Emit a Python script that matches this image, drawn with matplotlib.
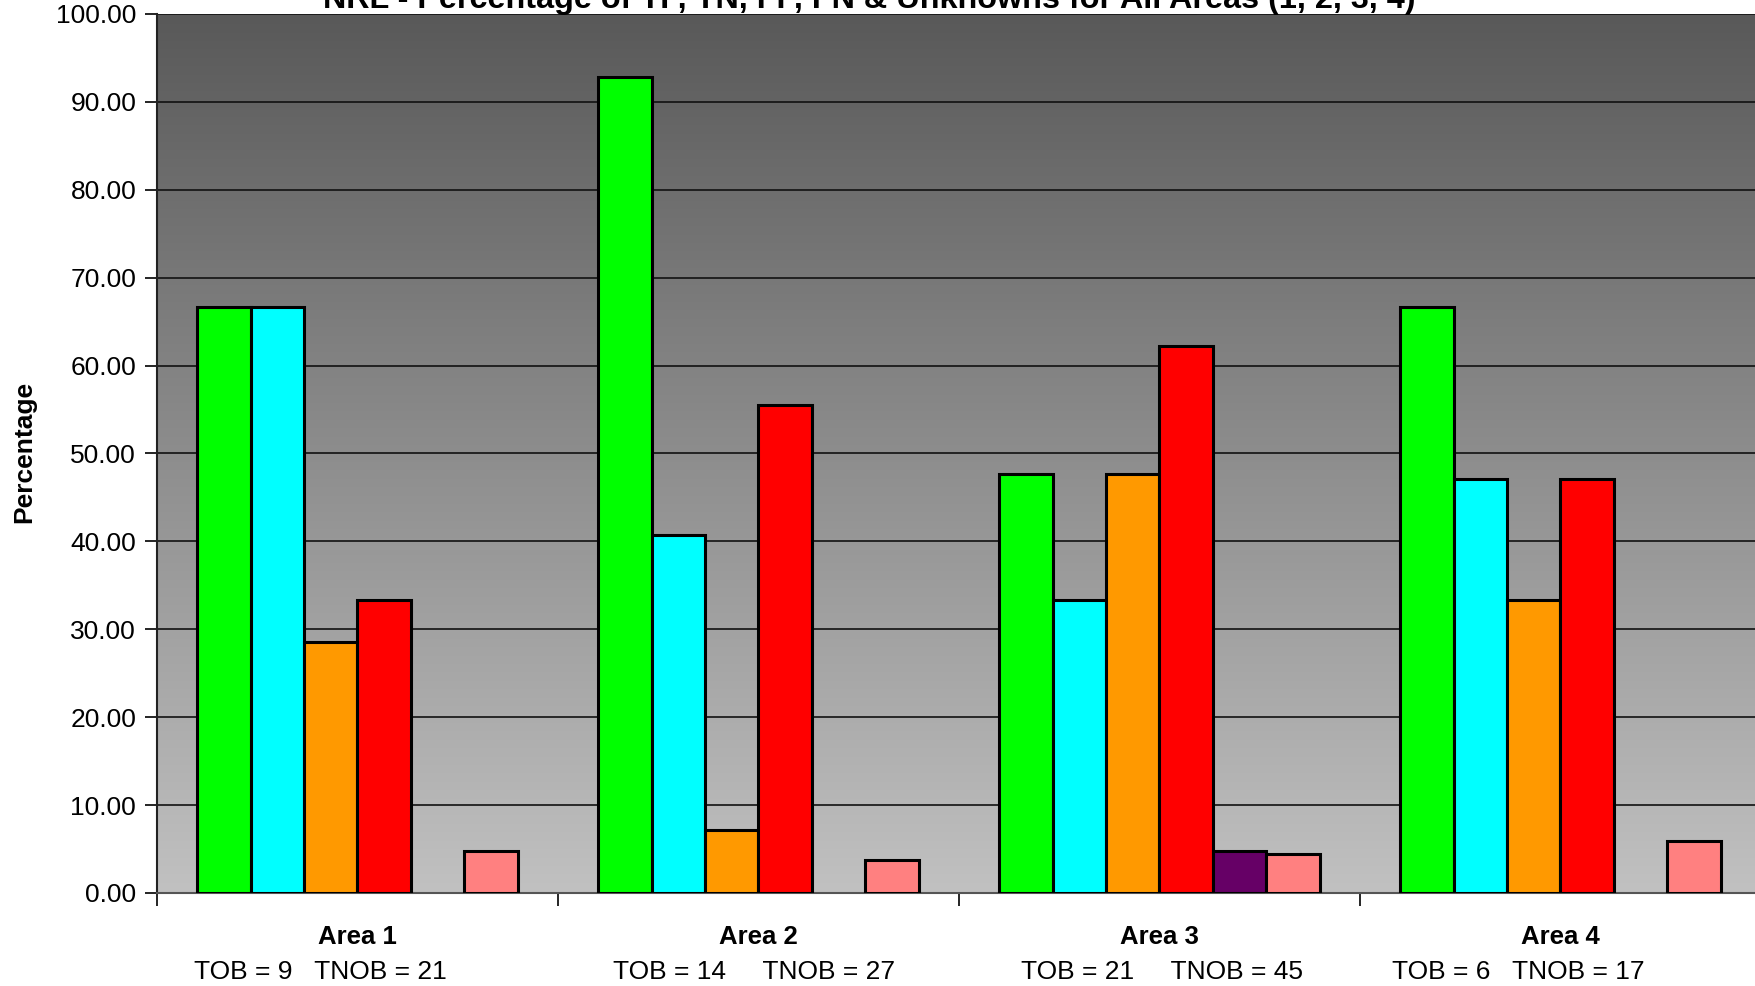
import numpy as np
import matplotlib
matplotlib.use("Agg")
import matplotlib.pyplot as plt
import matplotlib.transforms as mtransforms

plt.rcParams['font.family'] = ['Liberation Sans', 'DejaVu Sans']

areas = ["Area 1", "Area 2", "Area 3", "Area 4"]
counts = ["TOB = 9   TNOB = 21", "TOB = 14     TNOB = 27",
          "TOB = 21     TNOB = 45", "TOB = 6   TNOB = 17"]
series_names = ["TP", "TN", "FP", "FN", "Unknown TOB", "Unknown TNOB"]
tp = [66.67, 92.86, 47.62, 66.67]
tn = [66.67, 40.74, 33.33, 47.06]
fp = [28.57, 7.14, 47.62, 33.33]
fn = [33.33, 55.56, 62.22, 47.06]
unk_ob = [0.0, 0.0, 4.76, 0.0]
unk_nob = [4.76, 3.70, 4.44, 5.88]
colors = ["#00FF00", "#00FFFF", "#FF9900", "#FF0000", "#660066", "#FF8080"]
title = "NRL - Percentage of TP, TN, FP, FN & Unknowns for All Areas (1, 2, 3, 4)"
yticks = np.arange(0, 101, 10)

W, H = 1756, 986
fig = plt.figure(figsize=(W / 100, H / 100), dpi=100)
left, bottom_px, top_px, right = 157, 893, 14, 1761
ax = fig.add_axes([left / W, 1 - bottom_px / H, (right - left) / W, (bottom_px - top_px) / H])

ax.set_xlim(-0.5, 3.5)
ax.set_ylim(0, 100)

# gradient background
grad = np.linspace(0, 1, 256).reshape(-1, 1)
top_c = np.array([89, 89, 89]) / 255
bot_c = np.array([193, 193, 193]) / 255
img = top_c * (1 - grad[..., None]) + bot_c * grad[..., None]
img = img.reshape(256, 1, 3)
ax.imshow(img, extent=[-0.5, 3.5, 0, 100], aspect='auto', zorder=0, interpolation='bilinear')

# grid lines
for yv in yticks[1:]:
    ax.axhline(yv, color='#111111', lw=1.2, zorder=1)

data = [tp, tn, fp, fn, unk_ob, unk_nob]
n = len(data)
w = 0.8 / n
x = np.arange(len(areas))
for j, (vals, c, nm) in enumerate(zip(data, colors, series_names)):
    xs = x - 0.4 + w * (j + 0.5)
    v = np.array(vals)
    mask = v > 0
    ax.bar(xs[mask], v[mask], width=w, color=c, edgecolor='black', linewidth=2.2,
           zorder=3, label=nm)

ax.set_yticks(yticks)
ax.set_yticklabels([f"{v:.2f}" for v in yticks], fontsize=19)
ax.tick_params(axis='y', direction='out', length=9, width=1.2, color='black', pad=6)
ax.set_xticks(np.arange(-0.5, 3.6, 1.0))
ax.set_xticklabels([])
ax.tick_params(axis='x', direction='out', length=9, width=1.2, color='black')

for s in ['top', 'right']:
    ax.spines[s].set_visible(False)
ax.spines['left'].set_color('#222222')
ax.spines['left'].set_linewidth(1.5)
ax.spines['bottom'].set_color('#555555')
ax.spines['bottom'].set_linewidth(1.5)

# horizontal offsets (in category units) of the count lines, as in the original layout
count_shift = [-0.092, -0.01, 0.005, -0.105]
trans = mtransforms.blended_transform_factory(ax.transData, fig.transFigure)
for i, (a, c) in enumerate(zip(areas, counts)):
    ax.text(i, 1 - 937 / H, a, transform=trans, ha='center', va='center',
            fontsize=18.5, fontweight='bold')
    ax.text(i + count_shift[i], 1 - 972 / H, c, transform=trans, ha='center', va='center',
            fontsize=19)

fig.text(24 / W, 1 - 452 / H, "Percentage", rotation=90, ha='center', va='center',
         fontsize=19, fontweight='bold')
fig.text(869 / W, 1 - 8 / H, title, ha='center', va='baseline', fontsize=23.3,
         fontweight='bold')

fig.savefig("out.png", dpi=100)
